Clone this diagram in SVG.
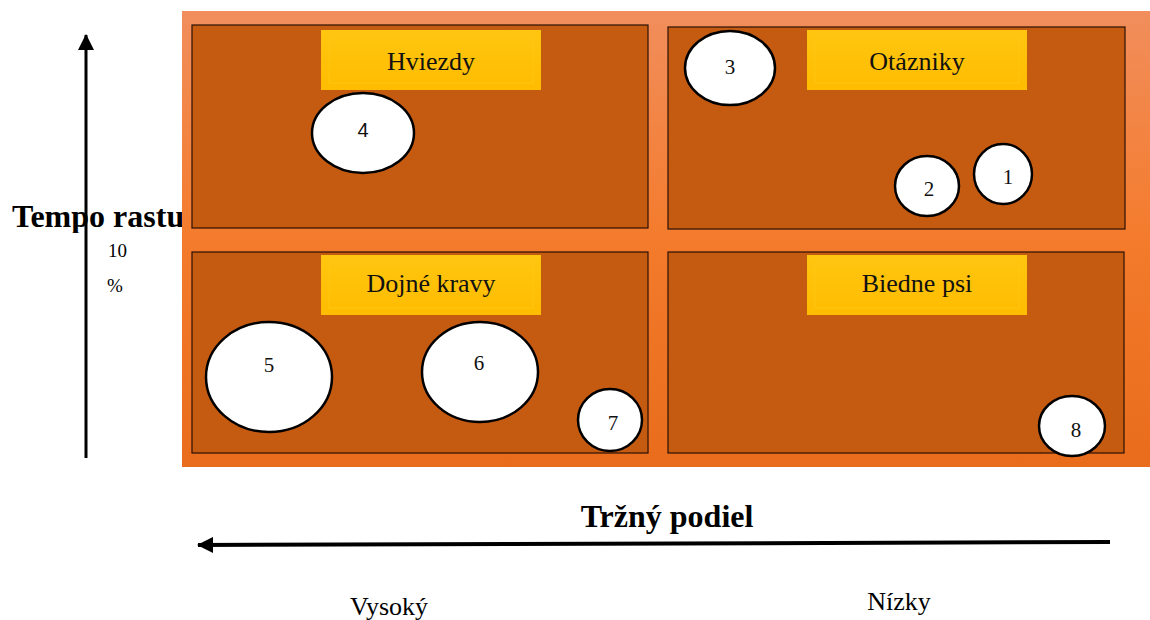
<svg xmlns="http://www.w3.org/2000/svg" width="1150" height="620" viewBox="0 0 1150 620">
<defs>
<linearGradient id="bg" x1="0" y1="0" x2="0" y2="1">
<stop offset="0" stop-color="#F18E5C"/>
<stop offset="0.5" stop-color="#F47B2C"/>
<stop offset="1" stop-color="#E86C1C"/>
</linearGradient>
<linearGradient id="lab" x1="0" y1="0" x2="0" y2="1">
<stop offset="0" stop-color="#FFC610"/>
<stop offset="1" stop-color="#FFBC00"/>
</linearGradient>
<marker id="ah" viewBox="0 0 16 16" refX="15" refY="8" markerWidth="16" markerHeight="16" orient="auto" markerUnits="userSpaceOnUse">
<path d="M0,0 L16,8 L0,16 z" fill="#000"/>
</marker>
<clipPath id="tclip"><rect x="0" y="190" width="182" height="43"/></clipPath>
<style>
text{font-family:"Liberation Serif","Times New Roman","DejaVu Serif",serif}
.quad{fill:#C55A11;stroke:#2a1005;stroke-width:1.2}
.lab{fill:url(#lab)}
.bev{fill:none;stroke:#FFC818;stroke-width:2;opacity:0.35}
.lt{font-size:26px;fill:#111;text-anchor:middle}
.bub{fill:#fff;stroke:#000;stroke-width:2.5}
.num{font-size:21px;fill:#111;text-anchor:middle}
.ax{fill:#000}
</style>
</defs>
<rect width="1150" height="620" fill="#fff"/>
<g id="axis-y">
<text class="ax" x="12" y="227" font-size="32" font-weight="bold" clip-path="url(#tclip)">Tempo rastu</text>
<text class="ax" x="108" y="257" font-size="19">10</text>
<text class="ax" x="107" y="292" font-size="19">%</text>
</g>
<g id="connectors">
<line x1="86" y1="458" x2="86" y2="35" stroke="#000" stroke-width="3" marker-end="url(#ah)"/>
<line x1="1110" y1="542" x2="198" y2="545" stroke="#000" stroke-width="4" marker-end="url(#ah)"/>
</g>
<rect x="182" y="11" width="968" height="456" fill="url(#bg)"/>
<g id="q-hviezdy">
<rect class="quad" x="192" y="25" width="456" height="203"/>
<rect class="lab" x="321" y="30" width="220" height="60"/>
<rect class="bev" x="329" y="37" width="204" height="46"/>
<text class="lt" x="431" y="70">Hviezdy</text>
</g>
<g id="q-otazniky">
<rect class="quad" x="668" y="27" width="457" height="202"/>
<rect class="lab" x="807" y="30" width="220" height="60"/>
<rect class="bev" x="815" y="37" width="204" height="46"/>
<text class="lt" x="917" y="70">Otázniky</text>
</g>
<g id="q-dojne">
<rect class="quad" x="192" y="252" width="456" height="201"/>
<rect class="lab" x="321" y="255" width="220" height="60"/>
<rect class="bev" x="329" y="262" width="204" height="46"/>
<text class="lt" x="431" y="292">Dojné kravy</text>
</g>
<g id="q-biedne">
<rect class="quad" x="668" y="252" width="456" height="201"/>
<rect class="lab" x="807" y="255" width="220" height="60"/>
<rect class="bev" x="815" y="262" width="204" height="46"/>
<text class="lt" x="917" y="292">Biedne psi</text>
</g>
<g id="b1"><ellipse class="bub" cx="1003" cy="174" rx="29" ry="30"/><text class="num" x="1008" y="184">1</text></g>
<g id="b2"><ellipse class="bub" cx="927" cy="186" rx="32" ry="30"/><text class="num" x="929" y="196">2</text></g>
<g id="b3"><ellipse class="bub" cx="730" cy="68" rx="45" ry="37"/><text class="num" x="730" y="74">3</text></g>
<g id="b4"><ellipse class="bub" cx="363" cy="133" rx="51" ry="40"/><text class="num" x="363" y="137" style="font-family:'Liberation Sans',Arial,sans-serif;font-size:20px">4</text></g>
<g id="b5"><ellipse class="bub" cx="269" cy="377" rx="63" ry="55"/><text class="num" x="269" y="372">5</text></g>
<g id="b6"><ellipse class="bub" cx="480" cy="372" rx="58" ry="50"/><text class="num" x="479" y="370">6</text></g>
<g id="b7"><ellipse class="bub" cx="610" cy="420" rx="32" ry="31"/><text class="num" x="613" y="430">7</text></g>
<g id="b8"><ellipse class="bub" cx="1072" cy="426" rx="33" ry="30"/><text class="num" x="1076" y="437">8</text></g>
<g id="axis-x">
<text class="ax" x="667" y="527" font-size="32" font-weight="bold" text-anchor="middle">Tržný podiel</text>
<text class="ax" x="389" y="615" font-size="26" text-anchor="middle">Vysoký</text>
<text class="ax" x="899" y="610" font-size="26" text-anchor="middle">Nízky</text>
</g>
</svg>
